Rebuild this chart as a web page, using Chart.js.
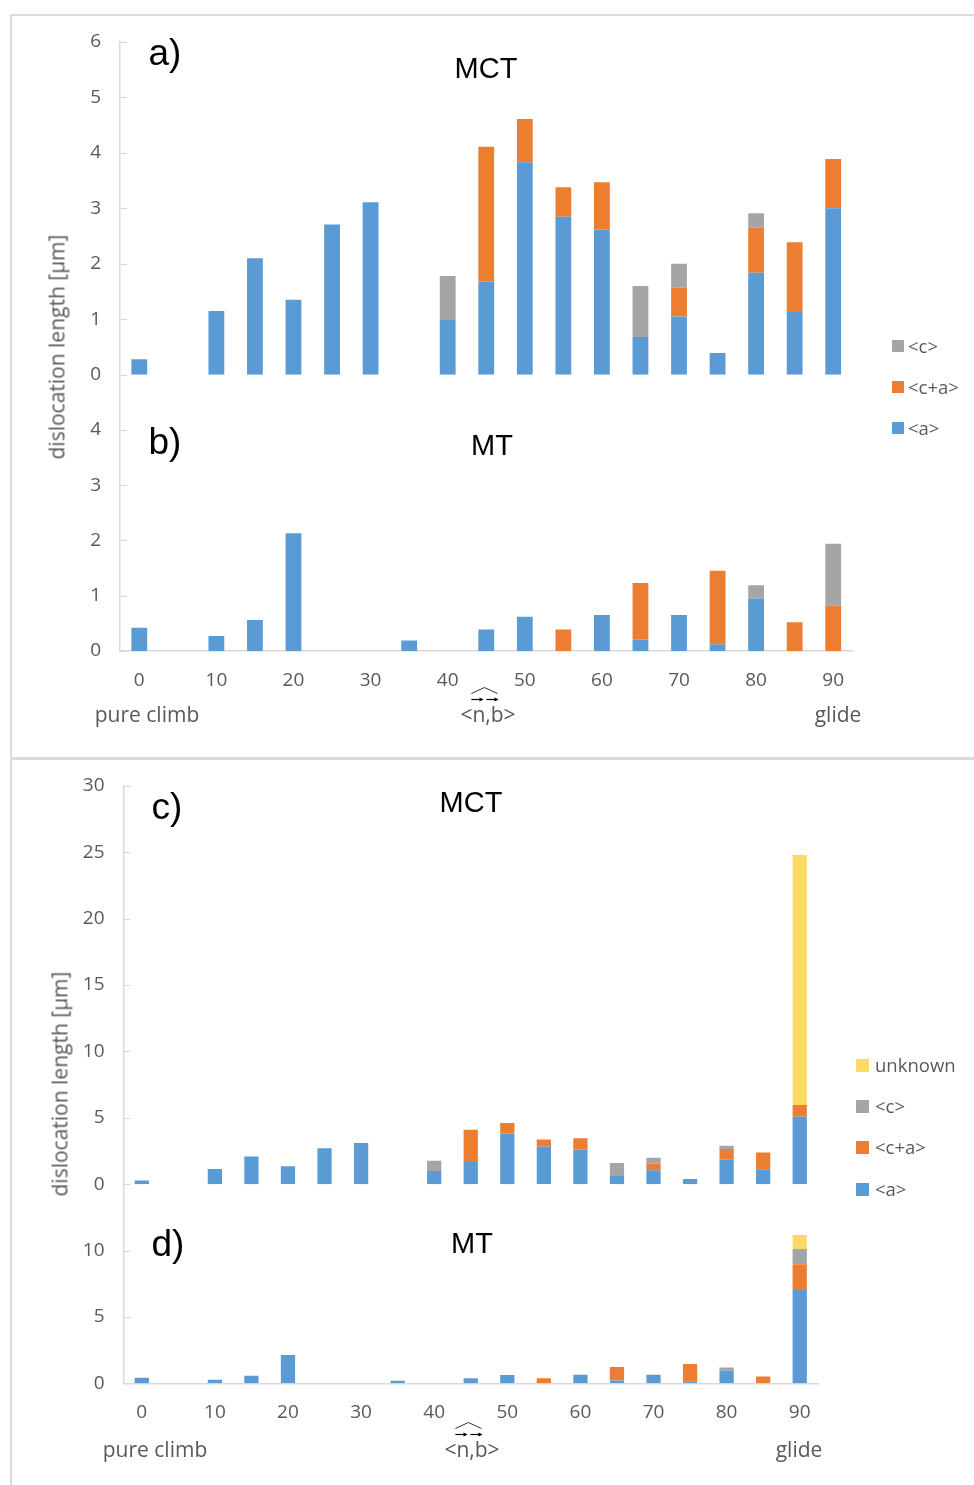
<!DOCTYPE html>
<html><head><meta charset="utf-8">
<script src="https://cdn.jsdelivr.net/npm/chart.js@4.4.1/dist/chart.umd.min.js"></script>
<style>
html,body{margin:0;padding:0;background:#fff;}
#wrap{position:relative;width:974px;height:1485px;overflow:hidden;font-family:'Open Sans',sans-serif;}
canvas.layer{position:absolute;left:0;top:0;}
.box{position:absolute;border:2px solid #DCDCDC;}
.t{position:absolute;white-space:nowrap;color:#595959;line-height:1;transform:translate(-50%,-50%);}
.big{position:absolute;white-space:nowrap;color:#000;font-family:'Liberation Sans',Arial,sans-serif;line-height:1;transform:translate(-50%,-50%);}
.ytitle{position:absolute;white-space:nowrap;color:#595959;font-size:21px;line-height:1;transform:translate(-50%,-50%) rotate(-90deg);}
.leg{position:absolute;white-space:nowrap;color:#595959;font-size:18.5px;line-height:1;}
.leg i{position:absolute;display:block;}
.leg span{position:absolute;transform:translateY(-50%);}
</style></head>
<body>
<div id="wrap">
  <div class="box" style="left:10px;top:14px;width:1000px;height:742px;"></div>
  <div class="box" style="left:10px;top:757px;width:1000px;height:800px;"></div>
  <canvas id="ca" class="layer" width="974" height="1485"></canvas>
  <canvas id="cb" class="layer" width="974" height="1485"></canvas>
  <canvas id="cc" class="layer" width="974" height="1485"></canvas>
  <canvas id="cd" class="layer" width="974" height="1485"></canvas>

  <div class="ytitle" style="left:57px;top:347px;">dislocation length [μm]</div>
  <div class="ytitle" style="left:60px;top:1084px;">dislocation length [μm]</div>

  <div class="big" style="left:165px;top:52px;font-size:37px;">a)</div>
  <div class="big" style="left:486px;top:68px;font-size:29px;">MCT</div>
  <div class="big" style="left:165px;top:441px;font-size:37px;">b)</div>
  <div class="big" style="left:492px;top:445px;font-size:29px;">MT</div>
  <div class="big" style="left:167px;top:806px;font-size:37px;">c)</div>
  <div class="big" style="left:471px;top:802px;font-size:29px;">MCT</div>
  <div class="big" style="left:168px;top:1243px;font-size:37px;">d)</div>
  <div class="big" style="left:472px;top:1243px;font-size:29px;">MT</div>

  <div class="t" style="left:147px;top:714px;font-size:21px;">pure climb</div>
  <div class="t" style="left:838px;top:714px;font-size:21px;">glide</div>
  <div class="t nb" style="left:488px;top:714px;font-size:21px;">&lt;n,b&gt;</div>
  <div class="t" style="left:155px;top:1449px;font-size:21px;">pure climb</div>
  <div class="t" style="left:799px;top:1449px;font-size:21px;">glide</div>
  <div class="t nb" style="left:472px;top:1449px;font-size:21px;">&lt;n,b&gt;</div>

  <div id="legTop"></div>
  <div id="legBot"></div>
</div>
<script>
// ---- data ----
const categories = ['0','5','10','15','20','25','30','35','40','45','50','55','60','65','70','75','80','85','90'];
const seriesNames = ['<a>', '<c+a>', '<c>', 'unknown'];
const seriesColors = ['#5B9BD5', '#ED7D31', '#A5A5A5', '#FFD966'];

// a) MCT
const mctA  = [0.28, 0, 1.15, 2.10, 1.35, 2.71, 3.11, 0, 1.00, 1.68, 3.83, 2.85, 2.62, 0.68, 1.05, 0.39, 1.84, 1.13, 3.00];
const mctCA = [0, 0, 0, 0, 0, 0, 0, 0, 0, 2.43, 0.78, 0.53, 0.85, 0, 0.52, 0, 0.81, 1.26, 0.89];
const mctC  = [0, 0, 0, 0, 0, 0, 0, 0, 0.78, 0, 0, 0, 0, 0.92, 0.43, 0, 0.26, 0, 0];

// b) MT
const mtA  = [0.42, 0, 0.27, 0.56, 2.13, 0, 0, 0.19, 0, 0.39, 0.62, 0, 0.65, 0.21, 0.65, 0.12, 0.95, 0, 0];
const mtCA = [0, 0, 0, 0, 0, 0, 0, 0, 0, 0, 0, 0.39, 0, 1.02, 0, 1.33, 0, 0.52, 0.82];
const mtC  = [0, 0, 0, 0, 0, 0, 0, 0, 0, 0, 0, 0, 0, 0, 0, 0, 0.24, 0, 1.12];

// c) MCT incl. unknown
const mctAllA  = [0.28, 0, 1.15, 2.10, 1.35, 2.71, 3.11, 0, 1.00, 1.68, 3.83, 2.85, 2.62, 0.68, 1.05, 0.39, 1.84, 1.13, 5.09];
const mctAllCA = [0, 0, 0, 0, 0, 0, 0, 0, 0, 2.43, 0.78, 0.53, 0.85, 0, 0.52, 0, 0.81, 1.26, 0.88];
const mctAllC  = [0, 0, 0, 0, 0, 0, 0, 0, 0.78, 0, 0, 0, 0, 0.92, 0.43, 0, 0.26, 0, 0];
const mctAllU  = [0, 0, 0, 0, 0, 0, 0, 0, 0, 0, 0, 0, 0, 0, 0, 0, 0, 0, 18.81];

// d) MT incl. unknown
const mtAllA  = [0.42, 0, 0.27, 0.56, 2.13, 0, 0, 0.19, 0, 0.39, 0.62, 0, 0.65, 0.21, 0.65, 0.12, 0.95, 0, 7.03];
const mtAllCA = [0, 0, 0, 0, 0, 0, 0, 0, 0, 0, 0, 0.39, 0, 1.02, 0, 1.33, 0, 0.52, 1.94];
const mtAllC  = [0, 0, 0, 0, 0, 0, 0, 0, 0, 0, 0, 0, 0, 0, 0, 0, 0.24, 0, 1.15];
const mtAllU  = [0, 0, 0, 0, 0, 0, 0, 0, 0, 0, 0, 0, 0, 0, 0, 0, 0, 0, 1.06];

// ---- drawing ----
const W = 974, H = 1485, XH = 44;
const AXIS = '#D9D9D9', TXT = '#595959';
const FONT = "'Open Sans', sans-serif";

const innerTicks = {
  id: 'innerTicks',
  afterDraw(chart, args, opts) {
    const y = chart.scales.y, ctx = chart.ctx, L = chart.chartArea.left;
    ctx.save();
    ctx.strokeStyle = AXIS; ctx.lineWidth = 1;
    y.ticks.forEach(t => {
      if (t.value > opts.hideAbove) return;
      const p = Math.round(y.getPixelForValue(t.value)) + 0.5;
      ctx.beginPath(); ctx.moveTo(L, p); ctx.lineTo(L + 7, p); ctx.stroke();
    });
    ctx.restore();
  }
};

function makeChart(id, series, area, yMax, yStep, hideAbove, showX, barPct) {
  const datasets = series.map((arr, i) => ({
    label: seriesNames[i], data: arr, backgroundColor: seriesColors[i],
    borderWidth: 0, barPercentage: barPct, categoryPercentage: 1
  }));
  const xScale = {
    stacked: true, display: showX,
    grid: { display: false, drawTicks: false },
    border: { display: true, color: AXIS, width: 1.5 },
    ticks: {
      autoSkip: false, maxRotation: 0, padding: 18, color: TXT,
      font: { family: FONT, size: 19 },
      callback: function (v, i) { const c = categories[i]; return (+c % 10 === 0) ? c : ''; }
    }
  };
  if (showX) xScale.afterFit = s => { s.height = XH; };
  new Chart(document.getElementById(id), {
    type: 'bar',
    data: { labels: categories, datasets },
    plugins: [innerTicks],
    options: {
      responsive: false, animation: false, devicePixelRatio: 1,
      layout: { padding: { left: 0, top: area.t, right: W - area.r, bottom: showX ? H - area.b - XH : H - area.b } },
      plugins: { legend: { display: false }, tooltip: { enabled: false }, innerTicks: { hideAbove } },
      scales: {
        x: xScale,
        y: {
          stacked: true, min: 0, max: yMax,
          grid: { display: false, drawTicks: false },
          border: { display: true, color: AXIS, width: 1.5 },
          ticks: {
            stepSize: yStep, padding: 19, color: TXT,
            font: { family: FONT, size: 19 },
            callback: v => (v > hideAbove ? '' : v)
          },
          afterFit: s => { s.width = area.l; }
        }
      }
    }
  });
}

makeChart('ca', [mctA, mctCA, mctC], { l: 120, r: 852.5, t: 42, b: 374.7 }, 6, 1, 6, false, 0.41);
makeChart('cb', [mtA, mtCA, mtC], { l: 120, r: 852.5, t: 374.7, b: 651 }, 5, 1, 4, true, 0.41);
makeChart('cc', [mctAllA, mctAllCA, mctAllC, mctAllU], { l: 123.5, r: 818, t: 785.7, b: 1184.3 }, 30, 5, 30, false, 0.39);
makeChart('cd', [mtAllA, mtAllCA, mtAllC, mtAllU], { l: 123.5, r: 818, t: 1184.3, b: 1383.3 }, 15, 5, 10, true, 0.39);

// legends (series listed top-down in reverse order)
function legend(el, n, x, ys, sq, tx) {
  const box = document.getElementById(el);
  for (let k = 0; k < n; k++) {
    const i = n - 1 - k;
    const d = document.createElement('div');
    d.className = 'leg';
    d.style.left = x + 'px'; d.style.top = ys[k] + 'px';
    const sw = document.createElement('i');
    sw.style.cssText = `left:0;top:${-sq / 2}px;width:${sq}px;height:${sq}px;background:${seriesColors[i]}`;
    const s = document.createElement('span');
    s.style.left = tx + 'px'; s.style.top = '0';
    s.textContent = seriesNames[i];
    d.appendChild(sw); d.appendChild(s); box.appendChild(d);
  }
}
legend('legTop', 3, 892, [346, 387, 428], 12, 16);
legend('legBot', 4, 856, [1065, 1106, 1147, 1189], 13, 19);

// hat and vectors above n,b
document.querySelectorAll('.nb').forEach(el => {
  const svg = document.createElementNS('http://www.w3.org/2000/svg', 'svg');
  svg.setAttribute('width', '40'); svg.setAttribute('height', '20');
  svg.style.cssText = 'position:absolute;left:10px;top:-16px;overflow:visible';
  svg.innerHTML =
    '<polyline points="1,6 14,0 27,6" fill="none" stroke="#333" stroke-width="1"/>' +
    '<line x1="1" y1="12" x2="12" y2="12" stroke="#000" stroke-width="1.2"/>' +
    '<polygon points="13,12 9,10 9,14" fill="#000"/>' +
    '<line x1="16" y1="12" x2="27" y2="12" stroke="#000" stroke-width="1.2"/>' +
    '<polygon points="28,12 24,10 24,14" fill="#000"/>';
  el.appendChild(svg);
});
</script>
</body></html>
